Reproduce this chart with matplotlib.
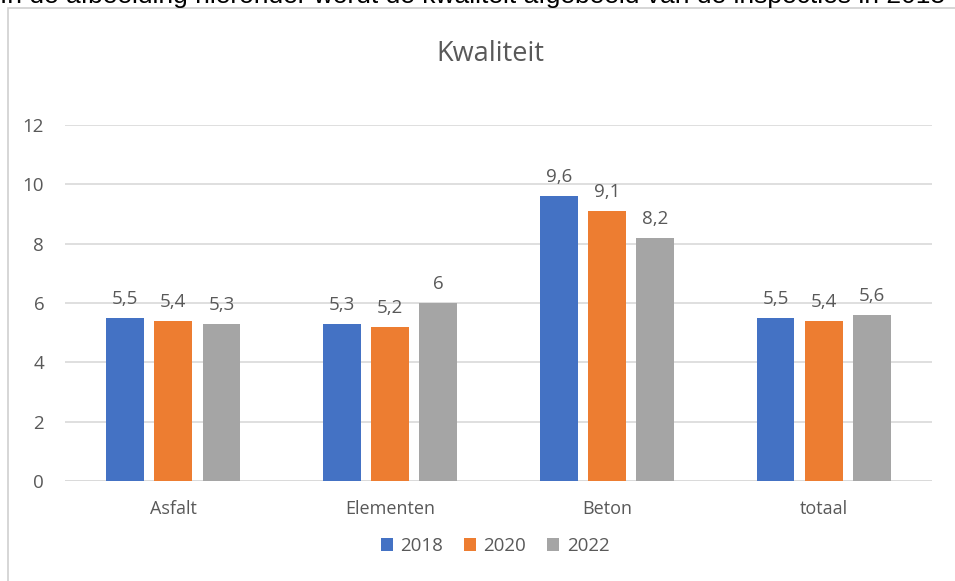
import matplotlib.pyplot as plt
import numpy as np
from matplotlib.patches import Rectangle

categories = ["Asfalt", "Elementen", "Beton", "totaal"]
years = ["2018", "2020", "2022"]
values_2018 = [5.5, 5.3, 9.6, 5.5]
values_2020 = [5.4, 5.2, 9.1, 5.4]
values_2022 = [5.3, 6.0, 8.2, 5.6]
yticks = [0, 2, 4, 6, 8, 10, 12]

colors = ["#4472C4", "#ED7D31", "#A5A5A5"]
text_col = "#595959"

plt.rcParams["font.family"] = ["Open Sans", "DejaVu Sans"]

fig = plt.figure(figsize=(9.55, 5.81), dpi=100)

# running text above the chart, clipped by the page edge
fig.text(0.0, 1 - 3 / 581, "In de afbeelding hieronder wordt de kwaliteit afgebeeld van de inspecties in 2018",
         fontsize=19, color="black", va="baseline", ha="left", family="Liberation Sans")

# chart frame
fig.patches.append(Rectangle((8 / 955, -0.01), 1.0, 1 - 8 / 581 + 0.01, transform=fig.transFigure,
                             fill=False, edgecolor="#D0D0D0", lw=1.2))

ax = fig.add_axes([65 / 955, (581 - 481) / 581, 867 / 955, 356 / 581])

x = np.arange(len(categories))
width = 0.175
step = 0.222
series = [values_2018, values_2020, values_2022]
for i, vals in enumerate(series):
    pos = x + (i - 1) * step
    bars = ax.bar(pos, vals, width, color=colors[i], label=years[i], zorder=3)
    for b, v in zip(bars, vals):
        lbl = ("%g" % v).replace(".", ",")
        ax.text(b.get_x() + b.get_width() / 2, v + 0.33, lbl, ha="center", va="bottom",
                fontsize=13.5, color=text_col)

ax.set_xlim(-0.5, len(categories) - 0.5)
ax.set_ylim(0, 12)
ax.set_yticks(yticks)
ax.set_yticklabels([str(t) for t in yticks], fontsize=13.5, color=text_col)
ax.set_xticks(x)
ax.set_xticklabels(categories, fontsize=13, color=text_col)
ax.tick_params(axis="both", length=0)
ax.tick_params(axis="y", pad=15)
ax.tick_params(axis="x", pad=14)
ax.grid(axis="y", color="#D9D9D9", lw=1.2, zorder=0)
for s in ax.spines.values():
    s.set_visible(False)
ax.axhline(0, color="#D9D9D9", lw=1.2, zorder=2)

fig.text(0.513, 1 - 54 / 581, "Kwaliteit", ha="center", va="center", fontsize=19.5, color=text_col)

ax.legend(loc="center", bbox_to_anchor=(495 / 955, 1 - 546 / 581), bbox_transform=fig.transFigure,
          ncol=3, frameon=False, fontsize=13.5, handlelength=0.65, handleheight=0.65,
          handletextpad=0.4, columnspacing=1.1, labelcolor=text_col)

fig.savefig("out.png", dpi=100)
